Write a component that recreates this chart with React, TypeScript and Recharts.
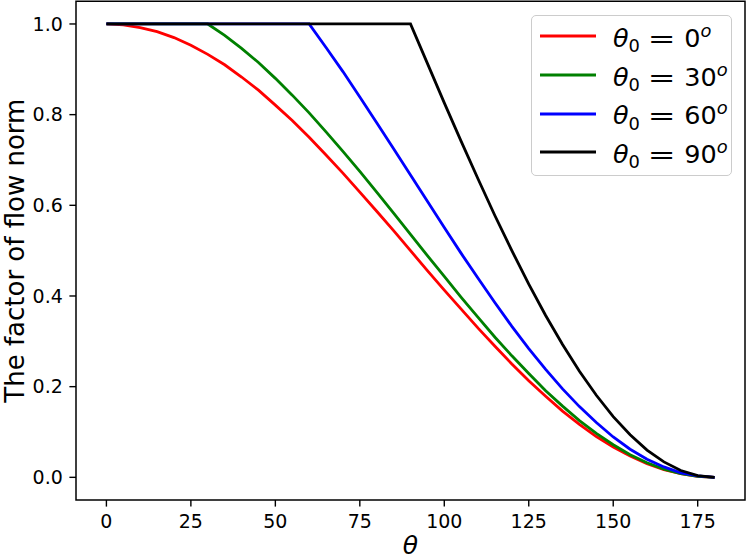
import { LineChart, Line, XAxis, YAxis, Legend, ReferenceArea } from "recharts";

// theta in degrees, sampled every 5 degrees
const thetas = [
  0, 5, 10, 15, 20, 25, 30, 35, 40, 45, 50, 55, 60, 65, 70, 75, 80, 85, 90, 95,
  100, 105, 110, 115, 120, 125, 130, 135, 140, 145, 150, 155, 160, 165, 170,
  175, 180,
];

const factor0 = [
  1.0, 0.998, 0.992, 0.983, 0.97, 0.953, 0.933, 0.91, 0.883, 0.854, 0.821,
  0.787, 0.75, 0.711, 0.671, 0.629, 0.587, 0.544, 0.5, 0.456, 0.413, 0.371,
  0.329, 0.289, 0.25, 0.213, 0.179, 0.146, 0.117, 0.09, 0.067, 0.047, 0.03,
  0.017, 0.008, 0.002, 0.0,
];

const factor30 = [
  1.0, 1.0, 1.0, 1.0, 1.0, 1.0, 1.0, 0.975, 0.946, 0.915, 0.88, 0.843, 0.804,
  0.762, 0.719, 0.675, 0.629, 0.583, 0.536, 0.489, 0.443, 0.397, 0.353, 0.309,
  0.268, 0.229, 0.191, 0.157, 0.125, 0.097, 0.072, 0.05, 0.032, 0.018, 0.008,
  0.002, 0.0,
];

const factor60 = [
  1.0, 1.0, 1.0, 1.0, 1.0, 1.0, 1.0, 1.0, 1.0, 1.0, 1.0, 1.0, 1.0, 0.948,
  0.895, 0.839, 0.782, 0.725, 0.667, 0.609, 0.551, 0.494, 0.439, 0.385, 0.333,
  0.284, 0.238, 0.195, 0.156, 0.121, 0.089, 0.062, 0.04, 0.023, 0.01, 0.003,
  0.0,
];

const factor90 = [
  1.0, 1.0, 1.0, 1.0, 1.0, 1.0, 1.0, 1.0, 1.0, 1.0, 1.0, 1.0, 1.0, 1.0, 1.0,
  1.0, 1.0, 1.0, 1.0, 0.913, 0.826, 0.741, 0.658, 0.577, 0.5, 0.426, 0.357,
  0.293, 0.234, 0.181, 0.134, 0.094, 0.06, 0.034, 0.015, 0.004, 0.0,
];

const theta0Labels = ["0", "30", "60", "90"];
const seriesKeys = ["f0", "f30", "f60", "f90"];
const seriesColors = ["#ff0000", "#008000", "#0000ff", "#000000"];

const xTicks = [0, 25, 50, 75, 100, 125, 150, 175];
const yTicks = [0, 0.2, 0.4, 0.6, 0.8, 1.0];

const chartData = thetas.map((theta, i) => ({
  theta,
  f0: factor0[i],
  f30: factor30[i],
  f60: factor60[i],
  f90: factor90[i],
}));

const FONT = "'DejaVu Sans', sans-serif";

function XTitle({ viewBox }: any) {
  const cx = viewBox ? viewBox.x + viewBox.width / 2 : 410;
  return (
    <text
      x={cx}
      y={554}
      textAnchor="middle"
      fontFamily={FONT}
      fontSize={25}
      fontStyle="italic"
      fill="#000"
    >
      θ
    </text>
  );
}

function YTitle({ viewBox }: any) {
  const cy = viewBox ? viewBox.y + viewBox.height / 2 : 250;
  const x = 24.2;
  return (
    <text
      x={x}
      y={cy}
      transform={`rotate(-90, ${x}, ${cy})`}
      textAnchor="middle"
      fontFamily={FONT}
      fontSize={26}
      fill="#000"
    >
      The factor of flow norm
    </text>
  );
}

function ThetaLegend({ payload }: any) {
  return (
    <div
      style={{
        boxSizing: "border-box",
        width: 201,
        height: 161,
        border: "1.3px solid #cccccc",
        borderRadius: 5,
        background: "rgba(255,255,255,0.8)",
        padding: "1px 0 0 8px",
        fontFamily: FONT,
      }}
    >
      {(payload || []).map((entry: any) => (
        <div
          key={entry.value}
          style={{ display: "flex", alignItems: "center", height: 38.7 }}
        >
          <svg width={56} height={6} style={{ display: "block" }}>
            <line
              x1={0}
              y1={3}
              x2={56}
              y2={3}
              stroke={entry.color}
              strokeWidth={2.8}
            />
          </svg>
          <span
            style={{
              marginLeft: 17,
              fontSize: 25.5,
              lineHeight: "30px",
              color: "#000",
              position: "relative",
              top: 3,
              whiteSpace: "nowrap",
            }}
          >
            <span style={{ fontStyle: "italic" }}>θ</span>
            <span style={{ fontSize: "0.7em", position: "relative", top: "0.3em" }}>
              0
            </span>
            <span
              style={{
                display: "inline-block",
                transform: "scaleX(1.3)",
                margin: "0 0.45em",
              }}
            >
              =
            </span>
            {entry.value}
            <span
              style={{
                fontSize: "0.7em",
                fontStyle: "italic",
                position: "relative",
                top: "-0.55em",
              }}
            >
              o
            </span>
          </span>
        </div>
      ))}
    </div>
  );
}

export default function App() {
  return (
    <div style={{ position: "absolute", left: 0, top: 0, width: 747, height: 560, background: "#fff" }}>
      <LineChart
        width={747}
        height={560}
        data={chartData}
        margin={{ top: 1.3, right: 2, bottom: 0, left: 0 }}
      >
        <XAxis
          dataKey="theta"
          type="number"
          domain={[-9, 189]}
          ticks={xTicks}
          height={60}
          axisLine={false}
          tickLine={{ stroke: "#000", strokeWidth: 1.4 }}
          tickSize={6.6}
          tickMargin={7.5}
          tick={{ fill: "#000", fontSize: 19, fontFamily: FONT }}
          label={<XTitle />}
        />
        <YAxis
          type="number"
          domain={[-0.05, 1.05]}
          ticks={yTicks}
          width={76}
          axisLine={false}
          tickLine={{ stroke: "#000", strokeWidth: 1.4 }}
          tickSize={6.6}
          tickMargin={6.6}
          tickFormatter={(v: number) => v.toFixed(1)}
          tick={{ fill: "#000", fontSize: 19, fontFamily: FONT }}
          label={<YTitle />}
        />
        <ReferenceArea
          x1={-9}
          x2={189}
          y1={-0.05}
          y2={1.05}
          fill="none"
          fillOpacity={0}
          stroke="#000"
          strokeWidth={1.5}
        />
        {seriesKeys.map((key, i) => (
          <Line
            key={key}
            dataKey={key}
            name={theta0Labels[i]}
            type="linear"
            stroke={seriesColors[i]}
            strokeWidth={2.8}
            dot={false}
            activeDot={false}
            isAnimationActive={false}
          />
        ))}
        <Legend
          layout="vertical"
          align="center"
          verticalAlign="middle"
          content={<ThetaLegend />}
          wrapperStyle={{ left: 531, top: 15, width: 201, height: 161 }}
        />
      </LineChart>
    </div>
  );
}
